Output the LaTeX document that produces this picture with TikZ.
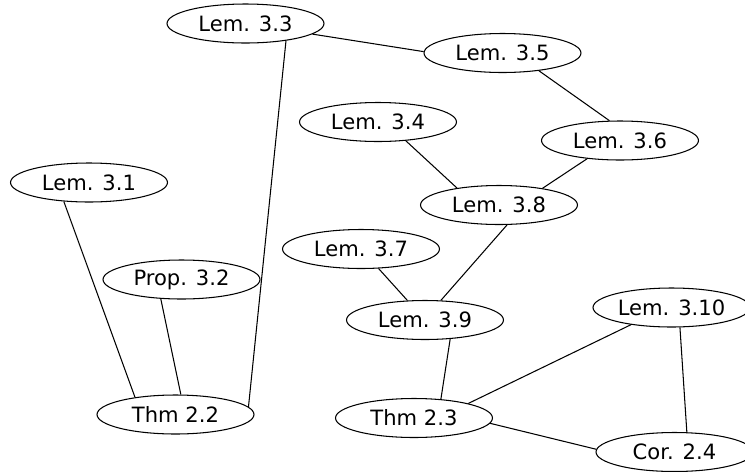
\documentclass[tikz,border=0pt]{standalone}
\usepackage{fontspec}
\setmainfont{DejaVu Sans}
\usetikzlibrary{shapes.geometric}

\begin{document}
\begin{tikzpicture}[x=0.02cm, y=-0.02cm, line width=0.6pt,
  res/.style={draw, ellipse, inner sep=0pt, minimum width=3.14cm,
    minimum height=0.78cm, font=\fontsize{12}{14}\selectfont}]
  % 画布 745x471 (像素坐标)
  \useasboundingbox (0,0) rectangle (745,471);
  \clip (0,0) rectangle (745,471);
  % 结果节点
  \node[res] (L33) at (245.5,23.5) {Lem. 3.3};
  \node[res] (L35) at (502.5,53) {Lem. 3.5};
  \node[res] (L34) at (378,122) {Lem. 3.4};
  \node[res] (L36) at (620,140.5) {Lem. 3.6};
  \node[res] (L31) at (89,182.5) {Lem. 3.1};
  \node[res] (L38) at (499,205) {Lem. 3.8};
  \node[res] (L37) at (361,249) {Lem. 3.7};
  \node[res] (P32) at (181.5,279.5) {Prop. 3.2};
  \node[res] (L39) at (425,320) {Lem. 3.9};
  \node[res] (L310) at (671.5,307.5) {Lem. 3.10};
  \node[res] (T22) at (175.5,414.5) {Thm 2.2};
  \node[res] (T23) at (414,418) {Thm 2.3};
  \node[res] (C24) at (674.5,452) {Cor. 2.4};
  % 依赖关系
  \draw (L33.-9) -- (L35.179);
  \draw (L33.-23) -- (T22.6);
  \draw (L31.-143) -- (T22.157);
  \draw (P32.-137) -- (T22.75);
  \draw (L35.-26) -- (L36.118);
  \draw (L36.-151) -- (L38.21);
  \draw (L34.-34) -- (L38.158);
  \draw (L38.-68) -- (L39.51);
  \draw (L37.-48) -- (L39.132);
  \draw (L39.-37) -- (T23.35);
  \draw (L310.-157) -- (T23.15);
  \draw (L310.-67) -- (C24.58);
  \draw (T23.-4) -- (C24.178);
\end{tikzpicture}
\end{document}
